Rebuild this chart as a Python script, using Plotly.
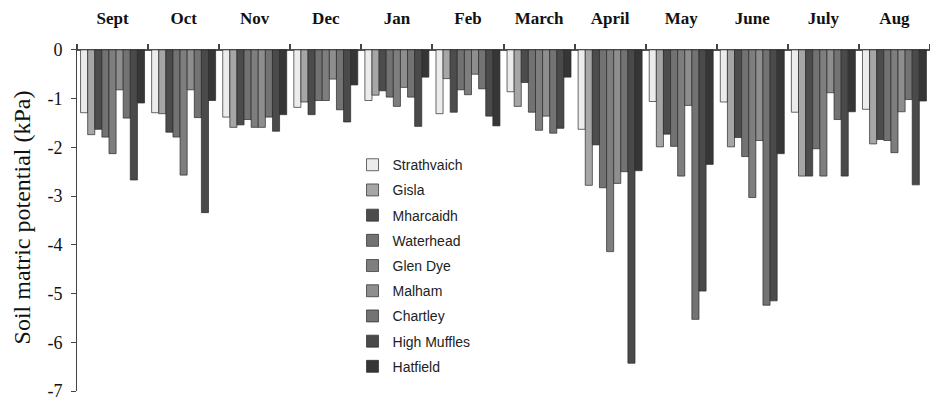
import plotly.graph_objects as go

# Month categories (hydrological year, September to August)
months = ["Sept", "Oct", "Nov", "Dec", "Jan", "Feb", "March",
          "April", "May", "June", "July", "Aug"]

# Monthly soil matric potential (kPa) for each site
strathvaich = [-1.29, -1.29, -1.38, -1.18, -1.04, -1.31, -0.86, -1.63, -1.06, -1.07, -1.28, -1.22]
gisla = [-1.74, -1.31, -1.59, -1.07, -0.93, -0.59, -1.16, -2.78, -1.99, -1.99, -2.59, -1.93]
mharcaidh = [-1.63, -1.69, -1.54, -1.33, -0.84, -1.28, -0.67, -1.95, -1.73, -1.80, -2.59, -1.84]
waterhead = [-1.79, -1.79, -1.43, -1.04, -0.97, -0.82, -1.28, -2.83, -1.98, -2.19, -2.03, -1.86]
glen_dye = [-2.13, -2.57, -1.59, -1.04, -1.16, -0.92, -1.65, -4.14, -2.59, -3.03, -2.59, -2.11]
malham = [-0.82, -0.82, -1.59, -0.60, -0.77, -0.50, -1.36, -2.74, -1.14, -1.86, -0.88, -1.27]
chartley = [-1.40, -1.39, -1.38, -1.23, -0.97, -0.80, -1.71, -2.50, -5.53, -5.24, -1.43, -1.02]
high_muffles = [-2.67, -3.34, -1.67, -1.48, -1.57, -1.36, -1.61, -6.43, -4.95, -5.15, -2.59, -2.77]
hatfield = [-1.09, -1.04, -1.33, -0.72, -0.56, -1.56, -0.56, -2.48, -2.35, -2.13, -1.27, -1.05]

sites = ["Strathvaich", "Gisla", "Mharcaidh", "Waterhead", "Glen Dye",
         "Malham", "Chartley", "High Muffles", "Hatfield"]
series = [strathvaich, gisla, mharcaidh, waterhead, glen_dye,
          malham, chartley, high_muffles, hatfield]
colors = ["#ececec", "#a6a6a6", "#4c4c4c", "#727272", "#7e7e7e",
          "#8e8e8e", "#737373", "#4a4a4a", "#363636"]

y_ticks = [0, -1, -2, -3, -4, -5, -6, -7]
y_min, y_max = -7.0, 0.12

fig = go.Figure()
for name, vals, col in zip(sites, series, colors):
    fig.add_trace(go.Bar(
        x=months, y=vals, name=name, legendgroup=name,
        marker=dict(color=col, line=dict(color="#2a2a2a", width=0.7)),
    ))

serif = "Liberation Serif"
fig.update_layout(
    width=930, height=400,
    margin=dict(l=77, r=0, t=44, b=9),
    paper_bgcolor="white", plot_bgcolor="white",
    barmode="group", bargap=0.1, bargroupgap=0,
    showlegend=True,
    legend=dict(
        x=0.323, y=0.697, xanchor="left", yanchor="top",
        bgcolor="rgba(0,0,0,0)", traceorder="grouped", tracegroupgap=4,
        font=dict(family="Liberation Sans", size=14, color="#222"),
        itemclick=False,
    ),
    xaxis=dict(
        type="category", side="top", anchor="free",
        position=(0 - y_min) / (y_max - y_min),
        tickson="boundaries", ticks="outside", ticklen=6, tickwidth=2,
        tickcolor="#444", showline=False, showgrid=False,
        ticklabelstandoff=22,
        tickfont=dict(family=serif, size=17, color="#111", weight="bold"),
    ),
    yaxis=dict(
        range=[y_min, y_max], tickvals=y_ticks,
        ticktext=[str(v) for v in y_ticks],
        ticks="outside", ticklen=5, tickwidth=1, tickcolor="#444",
        ticklabelstandoff=5, ticklabeloverflow="allow",
        showline=True, linecolor="#444", linewidth=1,
        showgrid=False, zeroline=True, zerolinecolor="#555", zerolinewidth=2,
        tickfont=dict(family=serif, size=18, color="#111"),
        title=dict(text="Soil matric potential (kPa)", standoff=10,
                   font=dict(family=serif, size=24, color="#111")),
    ),
    yaxis2=dict(
        overlaying="y", anchor="x", side="left",
        range=[y_min, y_max], tickvals=y_ticks,
        ticks="inside", ticklen=5, tickwidth=1, tickcolor="#444",
        showticklabels=False, showgrid=False, showline=False, zeroline=False,
    ),
)

fig.write_html("out.html")
